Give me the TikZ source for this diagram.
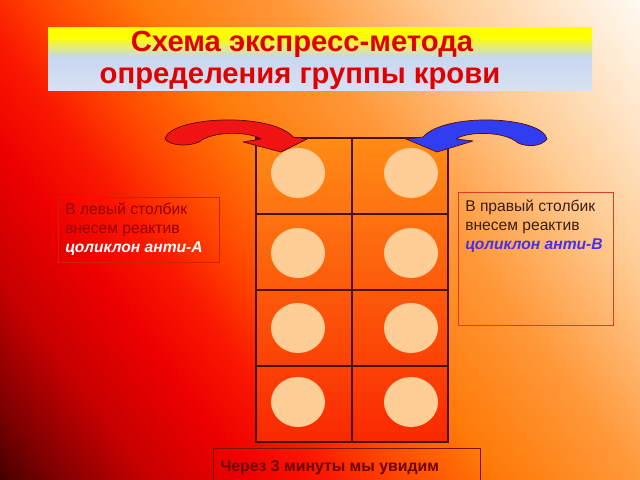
\documentclass[tikz,border=0pt]{standalone}
\usepackage{fontspec}
\setmainfont{Liberation Sans}
\usepackage{xcolor}
\usetikzlibrary{positioning,shadings}

\definecolor{bgwhite}{RGB}{255,250,242}
\definecolor{bgpale}{RGB}{255,228,198}
\definecolor{bgpeach}{RGB}{255,205,150}
\definecolor{bglight}{RGB}{255,152,58}
\definecolor{bgorange}{RGB}{255,122,8}
\definecolor{bgdeep}{RGB}{255,70,0}
\definecolor{bgred}{RGB}{250,25,0}
\definecolor{bgscarlet}{RGB}{238,0,0}
\definecolor{bgcrimson}{RGB}{200,0,0}
\definecolor{bgmaroon}{RGB}{130,0,0}
\definecolor{bgdark}{RGB}{70,0,0}
\definecolor{banneryellow}{RGB}{255,255,0}
\definecolor{bannerblue}{RGB}{200,215,240}
\definecolor{bannerlow}{RGB}{215,225,242}
\definecolor{titlered}{RGB}{225,0,0}
\definecolor{gridtop}{RGB}{255,140,22}
\definecolor{gridbottom}{RGB}{250,40,0}
\definecolor{gridline}{RGB}{70,20,0}
\definecolor{wellpeach}{RGB}{255,205,150}
\definecolor{arrowred}{RGB}{240,20,20}
\definecolor{arrowblue}{RGB}{50,60,240}
\definecolor{arrowedge}{RGB}{90,10,10}
\definecolor{noteleft}{RGB}{150,0,0}
\definecolor{noteright}{RGB}{60,30,20}
\definecolor{antiblue}{RGB}{70,50,230}
\definecolor{leftframe}{RGB}{205,35,10}
\definecolor{rightframe}{RGB}{225,60,40}
\definecolor{bottomframe}{RGB}{120,20,0}
\definecolor{bottomtext}{RGB}{110,0,0}

\pgfdeclarehorizontalshading{slidebg}{100bp}{color(0bp)=(bgwhite); color(25bp)=(bgwhite);
  color(30bp)=(bgpale); color(35bp)=(bgpeach); color(43bp)=(bglight); color(50bp)=(bgorange);
  color(55bp)=(bgdeep); color(58.5bp)=(bgred); color(62.5bp)=(bgscarlet); color(67.5bp)=(bgcrimson);
  color(72bp)=(bgmaroon); color(75bp)=(bgdark); color(100bp)=(bgdark)}
\pgfdeclareverticalshading{titlebg}{100bp}{color(0bp)=(bannerlow); color(25bp)=(bannerlow);
  color(51bp)=(bannerblue); color(67bp)=(banneryellow); color(100bp)=(banneryellow)}

\begin{document}
\begin{tikzpicture}[x=0.025cm, y=-0.025cm,
    titletext/.style={font=\fontsize{20.8}{24}\selectfont\bfseries, text=titlered, inner sep=0pt},
    notetext/.style={font=\fontsize{11.1}{13.5}\selectfont, align=left, inner sep=0pt},
    gridrule/.style={draw=gridline, line width=1.4pt},
    well/.style={fill=wellpeach},
    curvearrow/.style={draw=arrowedge, line width=0.5pt, line join=round},
    notebox/.style={draw, line width=0.7pt, inner sep=0pt, anchor=north west}]
  \useasboundingbox (0,0) rectangle (640,480);
  \clip (0,0) rectangle (640,480);

  % slide background
  \shade[shading=slidebg, shading angle=216.87] (-80,-160) rectangle (720,640);

  % title banner
  \shade[shading=titlebg] (48,27) rectangle (592,90);
  \node[titletext, anchor=base] (title1) at (302,52) {Схема экспресс-метода};
  \node[titletext, anchor=base] (title2) at (300,83) {определения группы крови};

  % plate with wells
  \shade[top color=gridtop, bottom color=gridbottom] (256,138) rectangle (448,442);
  \foreach \cy in {173,253,328,402} {
    \fill[well] (298,\cy) ellipse [x radius=27, y radius=25];
    \fill[well] (411,\cy) ellipse [x radius=27, y radius=25];
  }
  \foreach \ry in {214,290,366}
    \draw[gridrule] (256,\ry) -- (448,\ry);
  \draw[gridrule] (352,138) -- (352,442);
  \draw[gridrule] (256,138) rectangle (448,442);

  % reagent arrows
  \draw[curvearrow, fill=arrowred] (165,139) .. controls (170,116) and (272,112) .. (293,137)
    -- (307,139) -- (281,152) -- (243,142) -- (261,139)
    .. controls (248,131) and (212,131) .. (199,142)
    .. controls (190,146) and (172,147) .. (165,139) -- cycle;
  \draw[curvearrow, fill=arrowblue] (547,139) .. controls (542,116) and (445,112) .. (423,137)
    -- (406,139) -- (437,152) -- (473,141) -- (456,139)
    .. controls (468,131) and (505,131) .. (518,143)
    .. controls (527,147) and (541,147) .. (547,139) -- cycle;

  % left note
  \node[notebox, draw=leftframe, minimum width=4.025cm, minimum height=1.625cm] (leftbox) at (58,197) {};
  \node[notetext, text=noteleft, below right=0.15cm and 0.175cm of leftbox.north west] (lefttext)
    {В левый столбик\\внесем реактив\\{\color{white}\bfseries\itshape цоликлон анти-А}};

  % right note
  \node[notebox, draw=rightframe, minimum width=3.875cm, minimum height=3.325cm] (rightbox) at (458,192) {};
  \node[notetext, text=noteright, below right=0.18cm and 0.175cm of rightbox.north west] (righttext)
    {В правый столбик\\внесем реактив\\{\color{antiblue}\bfseries\itshape цоликлон анти-В}};

  % bottom note
  \node[notebox, draw=bottomframe, minimum width=6.675cm, minimum height=0.9cm] (bottombox) at (213,448) {};
  \node[font=\fontsize{11.25}{13}\selectfont\bfseries, text=bottomtext, inner sep=0pt, anchor=base west]
    (bottomtext) at (220,471) {Через 3 минуты мы увидим};
\end{tikzpicture}
\end{document}
